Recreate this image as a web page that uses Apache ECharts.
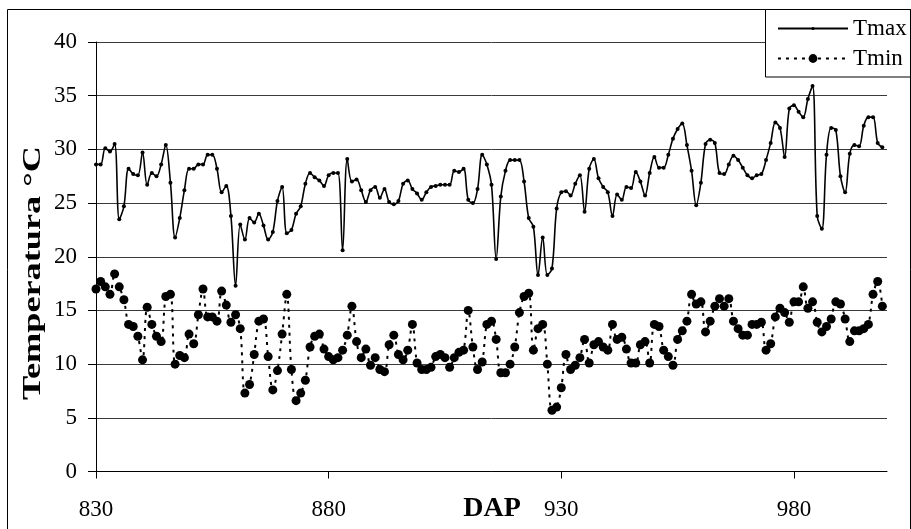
<!DOCTYPE html>
<html>
<head>
<meta charset="utf-8">
<script src="https://cdn.jsdelivr.net/npm/echarts@6/dist/echarts.min.js"></script>
<style>
  html, body { margin: 0; padding: 0; background: #fff; }
  #main { width: 911px; height: 529px; }
</style>
</head>
<body>
<div id="main"></div>
<script>
// first day of the record (DAP) and the last axis value
var firstDay = 830;
var lastDay = 1000;

// daily maximum temperature, DAP 830..999
var tmax = [
  28.6, 28.6, 30.1, 29.8, 30.5, 23.5, 24.7, 28.2, 27.7, 27.6,
  29.7, 26.7, 27.8, 27.5, 28.6, 30.4, 26.9, 21.8, 23.6, 26.2,
  28.2, 28.2, 28.6, 28.6, 29.5, 29.5, 28.2, 26.0, 26.6, 23.8,
  17.3, 23.0, 21.6, 23.6, 23.2, 24.0, 22.9, 21.6, 22.3, 25.2,
  26.5, 22.2, 22.5, 24.0, 24.7, 26.8, 27.8, 27.4, 27.1, 26.6,
  27.6, 27.8, 27.8, 20.6, 29.1, 27.0, 27.2, 26.2, 25.1, 26.2,
  26.5, 25.5, 26.3, 25.1, 24.9, 25.2, 26.8, 27.1, 26.3, 25.9,
  25.3, 26.0, 26.5, 26.6, 26.7, 26.7, 26.7, 28.0, 27.9, 28.2,
  25.3, 25.0, 26.3, 29.5, 28.6, 26.7, 19.8, 25.6, 28.0, 29.0,
  29.0, 29.0, 27.0, 23.6, 22.8, 18.3, 21.8, 18.3, 18.9, 24.5,
  26.0, 26.1, 25.7, 26.8, 27.6, 24.2, 28.2, 29.1, 27.3, 26.5,
  26.0, 23.8, 25.8, 25.3, 26.5, 26.4, 27.9, 27.0, 25.7, 27.8,
  29.3, 28.3, 28.3, 29.5, 31.0, 31.9, 32.4, 30.4, 28.0, 24.8,
  26.9, 30.5, 30.9, 30.6, 27.8, 27.7, 28.6, 29.4, 29.0, 28.3,
  27.6, 27.3, 27.6, 27.7, 29.0, 30.6, 32.5, 32.0, 29.3, 33.8,
  34.1, 33.5, 33.0, 34.7, 35.9, 23.8, 22.6, 29.5, 32.0, 31.8,
  27.5, 26.0, 29.6, 30.4, 30.3, 32.2, 33.0, 33.0, 30.6, 30.2
];

// daily minimum temperature, DAP 830..999
var tmin = [
  17.0, 17.7, 17.2, 16.5, 18.4, 17.2, 16.0, 13.7, 13.5, 12.6,
  10.4, 15.3, 13.7, 12.6, 12.1, 16.3, 16.5, 10.0, 10.8, 10.6,
  12.8, 11.9, 14.6, 17.0, 14.4, 14.4, 14.0, 16.8, 15.5, 13.9,
  14.6, 13.3, 7.3, 8.1, 10.9, 14.0, 14.2, 10.7, 7.6, 9.4,
  12.8, 16.5, 9.5, 6.6, 7.3, 8.5, 11.6, 12.6, 12.8, 11.4,
  10.7, 10.4, 10.6, 11.3, 12.7, 15.4, 12.1, 10.6, 11.4, 9.9,
  10.6, 9.5, 9.3, 11.8, 12.7, 10.9, 10.4, 11.3, 13.7, 10.1,
  9.5, 9.5, 9.7, 10.7, 10.9, 10.6, 9.7, 10.6, 11.1, 11.3,
  15.0, 11.6, 9.5, 10.2, 13.7, 14.0, 12.3, 9.2, 9.2, 10.0,
  11.6, 14.8, 16.3, 16.6, 11.3, 13.3, 13.7, 10.0, 5.7, 6.0,
  7.8, 10.9, 9.5, 9.9, 10.6, 12.3, 10.1, 11.8, 12.1, 11.6,
  11.3, 13.7, 12.3, 12.5, 11.4, 10.1, 10.1, 11.8, 12.1, 10.1,
  13.7, 13.5, 11.3, 10.7, 9.9, 12.3, 13.1, 14.0, 16.5, 15.6,
  15.8, 13.0, 14.0, 15.4, 16.1, 15.4, 16.1, 14.0, 13.3, 12.7,
  12.7, 13.7, 13.7, 13.9, 11.3, 11.9, 14.4, 15.2, 14.8, 13.9,
  15.8, 15.8, 17.2, 15.2, 15.8, 13.9, 13.0, 13.5, 14.2, 15.8,
  15.6, 14.2, 12.1, 13.1, 13.1, 13.3, 13.7, 16.5, 17.7, 15.4
];

// category axis: one entry per day, up to the axis end
var days = [];
for (var d = firstDay; d <= lastDay; d++) days.push(String(d));

function pad(arr) {
  var out = arr.slice();
  while (out.length < days.length) out.push(null);
  return out;
}

var font = 'Liberation Serif';
var chart = echarts.init(document.getElementById('main'));

var legendText = { fontFamily: font, fontSize: 23, color: '#000' };

var option = {
  backgroundColor: '#fff',
  animation: false,
  textStyle: { fontFamily: font, color: '#000' },
  grid: {
    left: 96, right: 24, top: 42, bottom: 57.5,
    containLabel: false,
    outerBoundsMode: 'none'
  },
  // two legends so each row can get its own marker size
  legend: [
    {
      left: 777, top: 17, padding: 0,
      itemWidth: 70, itemHeight: 4,
      textStyle: legendText,
      data: ['Tmax']
    },
    {
      left: 777, top: 47, padding: 0,
      itemWidth: 70, itemHeight: 11,
      textStyle: legendText,
      data: ['Tmin']
    }
  ],
  xAxis: {
    type: 'category',
    data: days,
    boundaryGap: false,
    axisLine: { lineStyle: { color: '#000', width: 1 } },
    axisTick: { interval: 49, length: 7, lineStyle: { color: '#000' } },
    axisLabel: { interval: 49, fontSize: 23, color: '#000', margin: 27 },
    splitLine: { show: false }
  },
  yAxis: {
    type: 'value',
    min: 0,
    max: 40,
    interval: 5,
    axisLine: { show: true, lineStyle: { color: '#000', width: 1 } },
    axisTick: { show: true, length: 8, lineStyle: { color: '#000' } },
    axisLabel: { fontSize: 23, color: '#000', margin: 19 },
    splitLine: { lineStyle: { color: '#3a3a3a', width: 1 } }
  },
  graphic: [
    {
      type: 'rect',
      shape: { x: 7.5, y: 9.5, width: 903, height: 540 },
      style: { fill: null, stroke: '#000', lineWidth: 1 },
      silent: true,
      z: 100
    },
    {
      // legend box
      type: 'rect',
      shape: { x: 765.5, y: 9.5, width: 145, height: 67.5 },
      style: { fill: '#fff', stroke: '#000', lineWidth: 1 },
      silent: true,
      z: 3
    },
    {
      type: 'text',
      x: 34, y: 273,
      rotation: Math.PI / 2,
      scaleX: 1.45,
      style: {
        text: 'Temperatura °C',
        x: 0, y: 0,
        align: 'center', verticalAlign: 'middle',
        font: 'bold 25px "Liberation Serif"',
        fill: '#000'
      },
      silent: true
    },
    {
      type: 'text',
      x: 492, y: 509,
      style: {
        text: 'DAP',
        x: 0, y: 0,
        align: 'center', verticalAlign: 'middle',
        font: 'bold 28px "Liberation Serif"',
        fill: '#000'
      },
      silent: true
    }
  ],
  series: [
    {
      name: 'Tmax',
      type: 'line',
      data: pad(tmax),
      smooth: 0.35,
      symbol: 'circle',
      symbolSize: 4,
      showAllSymbol: true,
      lineStyle: { color: '#000', width: 1.6 },
      itemStyle: { color: '#000' }
    },
    {
      name: 'Tmin',
      type: 'line',
      data: pad(tmin),
      smooth: 0.35,
      symbol: 'circle',
      symbolSize: 9,
      showAllSymbol: true,
      lineStyle: { color: '#000', width: 2, type: [3, 5] },
      itemStyle: { color: '#000' }
    }
  ]
};

chart.setOption(option);
</script>
</body>
</html>
